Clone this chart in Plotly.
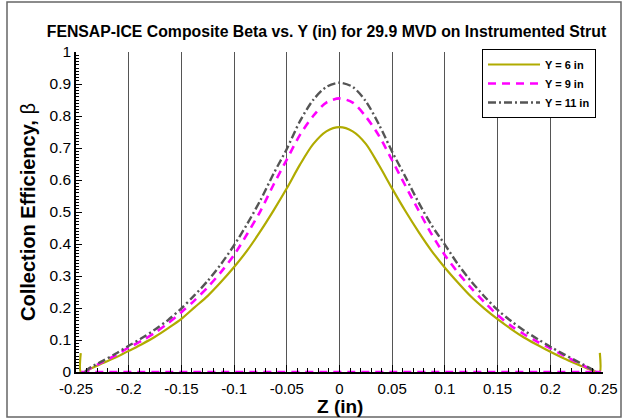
import plotly.graph_objects as go

# ---- data ----
z6 = [-0.2455, -0.2455, -0.2415, -0.2375, -0.225, -0.2125, -0.2, -0.1875, -0.175, -0.1625,
      -0.15, -0.1375, -0.125, -0.1125, -0.1, -0.0875, -0.075, -0.0625, -0.05, -0.0375,
      -0.025, -0.0125, 0.0, 0.0125, 0.025, 0.0375, 0.05, 0.0625, 0.075, 0.0875,
      0.1, 0.1125, 0.125, 0.1375, 0.15, 0.1625, 0.175, 0.1875, 0.2, 0.2125,
      0.225, 0.2375, 0.244, 0.247, 0.247]
b6 = [0.059, 0.0, 0.0, 0.008, 0.027, 0.045, 0.066, 0.087, 0.110, 0.137,
      0.166, 0.202, 0.238, 0.281, 0.328, 0.380, 0.440, 0.505, 0.574, 0.648,
      0.712, 0.752, 0.765, 0.752, 0.713, 0.646, 0.573, 0.503, 0.438, 0.378,
      0.326, 0.279, 0.235, 0.198, 0.165, 0.135, 0.108, 0.085, 0.063, 0.043,
      0.025, 0.008, 0.0, 0.0, 0.060]

z9 = [-0.2415, -0.2375, -0.225, -0.2125, -0.2, -0.1875, -0.175, -0.1625,
      -0.15, -0.1375, -0.125, -0.1125, -0.1, -0.0875, -0.075, -0.0625, -0.05, -0.0375,
      -0.025, -0.0125, 0.0, 0.0125, 0.025, 0.0375, 0.05, 0.0625, 0.075, 0.0875,
      0.1, 0.1125, 0.125, 0.1375, 0.15, 0.1625, 0.175, 0.1875, 0.2, 0.2125,
      0.225, 0.2375, 0.244, 0.248, -0.248]
b9 = [0.0, 0.010, 0.031, 0.052, 0.076, 0.098, 0.123, 0.153,
      0.187, 0.224, 0.265, 0.312, 0.366, 0.432, 0.503, 0.586, 0.664, 0.741,
      0.800, 0.842, 0.855, 0.842, 0.798, 0.738, 0.661, 0.582, 0.505, 0.430,
      0.365, 0.310, 0.262, 0.218, 0.178, 0.145, 0.118, 0.095, 0.074, 0.052,
      0.031, 0.010, 0.0, 0.0, 0.0]

z11 = [-0.2415, -0.2375, -0.225, -0.2125, -0.2, -0.1875, -0.175, -0.1625,
       -0.15, -0.1375, -0.125, -0.1125, -0.1, -0.0875, -0.075, -0.0625, -0.05, -0.0375,
       -0.025, -0.0125, 0.0, 0.0125, 0.025, 0.0375, 0.05, 0.0625, 0.075, 0.0875,
       0.1, 0.1125, 0.125, 0.1375, 0.15, 0.1625, 0.175, 0.1875, 0.2, 0.2125,
       0.225, 0.2375, 0.244]
b11 = [0.0, 0.012, 0.034, 0.057, 0.082, 0.106, 0.133, 0.163,
       0.199, 0.240, 0.285, 0.337, 0.396, 0.463, 0.537, 0.620, 0.697, 0.784,
       0.850, 0.891, 0.904, 0.891, 0.846, 0.773, 0.688, 0.610, 0.530, 0.458,
       0.398, 0.336, 0.283, 0.236, 0.194, 0.160, 0.130, 0.104, 0.079, 0.056,
       0.034, 0.012, 0.0]

series_names = ["Y = 6 in", "Y = 9 in", "Y = 11 in"]
x_ticks = [-0.25, -0.2, -0.15, -0.1, -0.05, 0, 0.05, 0.1, 0.15, 0.2, 0.25]
x_tick_labels = ["-0.25", "-0.2", "-0.15", "-0.1", "-0.05", "0", "0.05", "0.1", "0.15", "0.2", "0.25"]
y_ticks = [0, 0.1, 0.2, 0.3, 0.4, 0.5, 0.6, 0.7, 0.8, 0.9, 1]
y_tick_labels = ["0", "0.1", "0.2", "0.3", "0.4", "0.5", "0.6", "0.7", "0.8", "0.9", "1"]

FONT = "Liberation Sans, Arial, Helvetica, sans-serif"

fig = go.Figure()
fig.add_trace(go.Scatter(x=z6, y=b6, mode="lines", name=series_names[0],
                         line=dict(color="#B0AB00", width=2.2, shape="spline", smoothing=0.8)))
fig.add_trace(go.Scatter(x=z9, y=b9, mode="lines", name=series_names[1],
                         line=dict(color="#FF00FF", width=2.6, dash="8px,6px",
                                   shape="spline", smoothing=0.8)))
fig.add_trace(go.Scatter(x=z11, y=b11, mode="lines", name=series_names[2],
                         line=dict(color="#555555", width=2.4, dash="8px,3px,2px,3px",
                                   shape="spline", smoothing=0.8)))

W, H = 623, 419
L, R, T, B = 76, 20, 52, 47
pw, ph = W - L - R, H - T - B

def px_x(p):
    return (p - L) / pw

def px_y(p):
    return (H - B - p) / ph

fig.update_layout(
    width=W, height=H,
    margin=dict(l=L, r=R, t=T, b=B, autoexpand=False),
    paper_bgcolor="white", plot_bgcolor="white",
    font=dict(family=FONT, color="black"),
    title=dict(text="FENSAP-ICE Composite Beta vs. Y (in) for 29.9 MVD on Instrumented Strut",
               font=dict(size=15.8, weight="bold", family=FONT, color="black"),
               x=0.524, xanchor="center", y=1 - 31 / H, yanchor="middle"),
    showlegend=True,
    legend=dict(x=px_x(482), y=px_y(49), xanchor="left", yanchor="top",
                bgcolor="white", bordercolor="black", borderwidth=1,
                font=dict(size=11, weight="bold", family=FONT),
                tracegroupgap=0, itemwidth=52),
    shapes=[dict(type="rect", xref="paper", yref="paper",
                 x0=px_x(7), x1=px_x(621), y0=px_y(417), y1=px_y(2),
                 line=dict(color="#666666", width=1.5), layer="below")],
    annotations=[dict(text="<b>Z (in)</b>", xref="paper", yref="paper",
                      x=px_x(340), y=px_y(406), xanchor="center", yanchor="middle",
                      showarrow=False, font=dict(size=19, family=FONT, color="black"))],
)

fig.update_xaxes(
    range=[-0.25, 0.25], tickvals=x_ticks, ticktext=x_tick_labels,
    showgrid=True, gridcolor="#555555", gridwidth=1, zeroline=False,
    showline=True, linecolor="black", linewidth=1.5,
    ticks="inside", ticklen=7, tickwidth=1, tickcolor="black",
    tickfont=dict(size=15, family=FONT), ticklabelstandoff=2,
    minor=dict(dtick=0.01, ticks="inside", ticklen=4, tickwidth=1, tickcolor="black", showgrid=False),
    automargin=False,
)
fig.update_yaxes(
    range=[0, 1], tickvals=y_ticks, ticktext=y_tick_labels,
    showgrid=False, zeroline=False,
    showline=True, linecolor="black", linewidth=1.5,
    ticks="inside", ticklen=6, tickwidth=1, tickcolor="black",
    tickfont=dict(size=15.5, family=FONT),
    minor=dict(dtick=0.01, ticks="inside", ticklen=3, tickwidth=1, tickcolor="black", showgrid=False),
    title=dict(text="<b>Collection Efficiency, </b>β", font=dict(size=20, family=FONT), standoff=9),
    automargin=False,
)

fig.write_html("out.html")
